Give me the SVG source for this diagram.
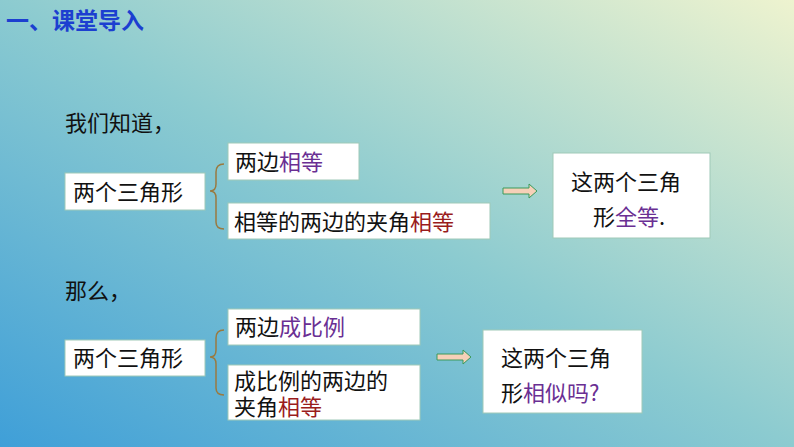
<svg xmlns="http://www.w3.org/2000/svg" width="794" height="447" viewBox="0 0 794 447">
<defs>
<linearGradient id="bg" x1="0" y1="1" x2="1" y2="0">
<stop offset="0" stop-color="#3f9fd8"/>
<stop offset="0.5" stop-color="#8ccbd0"/>
<stop offset="1" stop-color="#eef3cf"/>
</linearGradient>
<style>
text{font-family:"Noto Sans CJK SC","Liberation Sans",sans-serif;font-size:22px;fill:#111}
.box{fill:#fff;stroke:#9fc9b8;stroke-width:1}
.p{fill:#6a2f93}.r{fill:#9a1c1c}
.br{fill:none;stroke:#9a7a40;stroke-width:1.5}
.ar{fill:#f6d0b8;stroke:#3a9a5a;stroke-width:1}
</style>
</defs>
<rect width="794" height="447" fill="url(#bg)"/>
<text x="6" y="29" style="fill:#1c3fd0;font-size:23px;font-weight:bold">一、课堂导入</text>
<text x="65" y="131">我们知道，</text>
<text x="65" y="299">那么，</text>
<g id="n1"><rect class="box" x="65" y="173" width="140" height="37"/><text x="73" y="200">两个三角形</text></g>
<g id="n2"><rect class="box" x="228" y="143" width="131" height="37"/><text x="235" y="170">两边<tspan class="p">相等</tspan></text></g>
<g id="n3"><rect class="box" x="228" y="203" width="262" height="36"/><text x="234" y="230">相等的两边的夹角<tspan class="r">相等</tspan></text></g>
<g id="n4"><rect class="box" x="553" y="153" width="157" height="85"/><text x="571" y="190">这两个三角</text><text x="593" y="225">形<tspan class="p">全等</tspan>.</text></g>
<g id="n5"><rect class="box" x="65" y="340" width="140" height="36"/><text x="73" y="366">两个三角形</text></g>
<g id="n6"><rect class="box" x="228" y="309" width="192" height="36"/><text x="235" y="335">两边<tspan class="p">成比例</tspan></text></g>
<g id="n7"><rect class="box" x="228" y="365" width="192" height="55"/><text x="234" y="389">成比例的两边的</text><text x="234" y="415">夹角<tspan class="r">相等</tspan></text></g>
<g id="n8"><rect class="box" x="483" y="330" width="159" height="83"/><text x="501" y="366">这两个三角</text><text x="501" y="401">形<tspan class="p">相似吗?</tspan></text></g>
<g id="connectors">
<path class="br" d="M224,164 Q216,164 216,172 L216,184 Q216,191 210,191 Q216,191 216,198 L216,222 Q216,229 224,229"/>
<path class="br" d="M224,330 Q216,330 216,338 L216,350 Q216,357 210,357 Q216,357 216,364 L216,388 Q216,395 224,395"/>
<path class="ar" d="M503,188 L529,188 L529,184 L537,191 L529,198 L529,194 L503,194 Z"/>
<path class="ar" d="M437,354 L463,354 L463,350 L471,357 L463,364 L463,360 L437,360 Z"/>
</g>
</svg>
